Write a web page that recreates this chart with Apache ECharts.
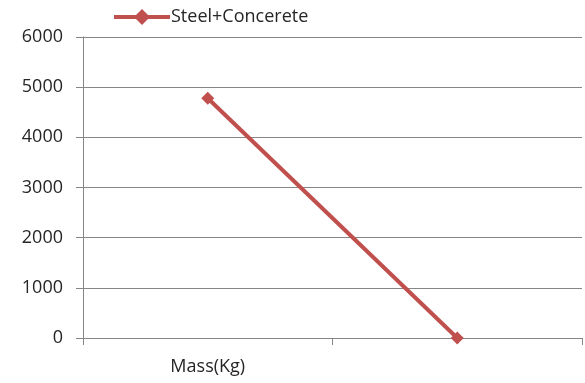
<!DOCTYPE html>
<html><head><meta charset="utf-8">
<script src="https://cdn.jsdelivr.net/npm/echarts@6/dist/echarts.min.js"></script>
<style>html,body{margin:0;padding:0;background:#fff}#c{width:585px;height:383px}</style>
</head><body><div id="c"></div>
<script>
const categories = ['Mass(Kg)', ''];
const seriesName = 'Steel+Concerete';
const values = [4780, 0];
const yTicks = [0, 1000, 2000, 3000, 4000, 5000, 6000];

const chart = echarts.init(document.getElementById('c'), null, {renderer: 'canvas'});
chart.setOption({
  animation: false,
  backgroundColor: '#fff',
  textStyle: {fontFamily: 'Open Sans, sans-serif'},
  legend: {
    data: [seriesName],
    left: 107, top: 3,
    itemWidth: 56, itemHeight: 20, itemGap: 2,
    lineStyle: {width: 4},
    textStyle: {fontSize: 18, color: '#262626', fontFamily: 'Open Sans, sans-serif', padding: [0,0,0,-4]}
  },
  grid: {left: 83, right: 3, top: 37, bottom: 45, containLabel: false},
  xAxis: {
    type: 'category', data: categories, boundaryGap: true,
    axisLine: {lineStyle: {color: '#868686', width: 1}},
    axisTick: {show: true, length: 7, lineStyle: {color: '#868686'}},
    axisLabel: {color: '#262626', fontSize: 18, margin: 20}
  },
  yAxis: {
    type: 'value', min: yTicks[0], max: yTicks[yTicks.length-1], interval: 1000,
    axisLine: {show: true, lineStyle: {color: '#868686', width: 1}},
    axisTick: {show: true, length: 7, lineStyle: {color: '#868686'}},
    axisLabel: {color: '#262626', fontSize: 18, margin: 20, formatter: v => String(v)},
    splitLine: {lineStyle: {color: '#868686', width: 1}}
  },
  series: [{
    name: seriesName, type: 'line', data: values,
    symbol: 'diamond', symbolSize: 13, showAllSymbol: true,
    lineStyle: {color: '#C0504D', width: 4},
    itemStyle: {color: '#C0504D'}
  }]
});
</script></body></html>
